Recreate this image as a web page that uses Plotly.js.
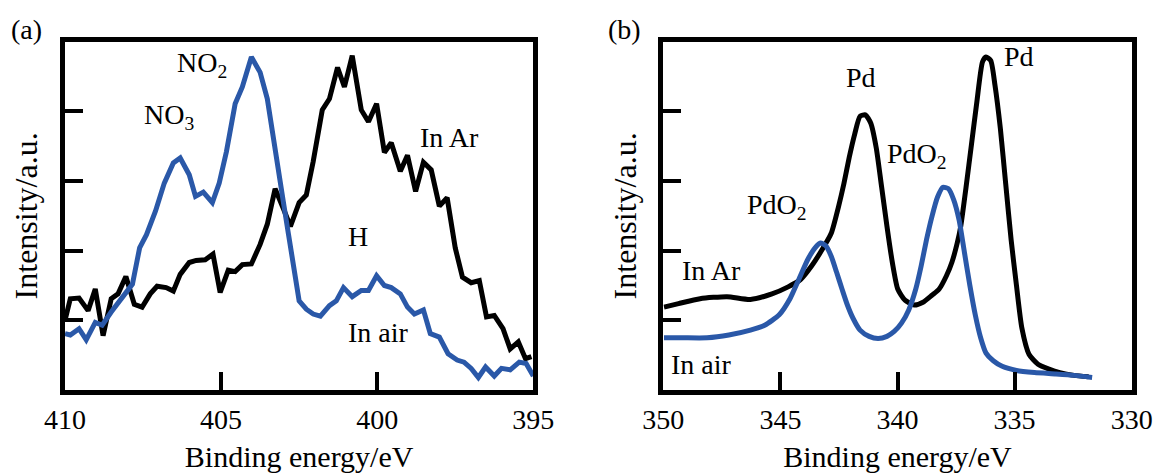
<!DOCTYPE html>
<html>
<head>
<meta charset="utf-8">
<script src="https://cdn.plot.ly/plotly-3.0.1.min.js"></script>
<style>html,body{margin:0;padding:0;background:#fff;}#chart{width:1158px;height:473px;}</style>
</head>
<body>
<div id="chart"></div>
<script>
// Panel (a): N 1s region
const xaAir = [410.0, 409.83, 409.55, 409.32, 409.03, 408.81, 408.52, 408.18, 407.84, 407.61, 407.39, 407.10, 406.82, 406.53, 406.31, 406.02, 405.82, 405.57, 405.28, 405.06, 404.83, 404.55, 404.32, 404.03, 403.75, 403.52, 403.35, 403.18, 403.01, 402.84, 402.67, 402.50, 402.27, 402.05, 401.82, 401.53, 401.31, 401.08, 400.80, 400.51, 400.28, 400.02, 399.77, 399.55, 399.26, 399.03, 398.81, 398.52, 398.30, 398.01, 397.73, 397.44, 397.22, 396.99, 396.76, 396.53, 396.25, 396.02, 395.74, 395.45, 395.23, 395.00];
const yaAir = [0.81, 0.79, 0.88, 0.72, 0.97, 0.93, 1.12, 1.33, 1.52, 2.04, 2.23, 2.57, 2.97, 3.26, 3.33, 3.09, 2.78, 2.84, 2.69, 2.97, 3.42, 4.11, 4.35, 4.78, 4.56, 4.18, 3.66, 3.18, 2.71, 2.23, 1.76, 1.28, 1.16, 1.09, 1.06, 1.21, 1.28, 1.47, 1.34, 1.43, 1.43, 1.64, 1.50, 1.47, 1.38, 1.19, 1.09, 1.15, 0.81, 0.76, 0.52, 0.43, 0.40, 0.31, 0.18, 0.33, 0.20, 0.31, 0.29, 0.40, 0.38, 0.20];
const xaAr = [410.0, 409.83, 409.55, 409.26, 409.03, 408.78, 408.52, 408.30, 408.05, 407.78, 407.53, 407.27, 407.05, 406.76, 406.53, 406.31, 406.02, 405.80, 405.51, 405.26, 405.03, 404.77, 404.55, 404.32, 404.03, 403.75, 403.52, 403.27, 403.01, 402.78, 402.50, 402.27, 402.05, 401.76, 401.53, 401.27, 401.05, 400.80, 400.51, 400.28, 400.02, 399.77, 399.55, 399.26, 399.03, 398.77, 398.52, 398.27, 398.01, 397.76, 397.50, 397.27, 396.99, 396.73, 396.50, 396.25, 395.97, 395.74, 395.48, 395.25, 395.06];
const yaAr = [1.00, 1.31, 1.32, 1.14, 1.45, 0.78, 1.31, 1.38, 1.63, 1.23, 1.19, 1.38, 1.49, 1.47, 1.42, 1.66, 1.83, 1.86, 1.87, 1.95, 1.40, 1.72, 1.70, 1.80, 1.81, 2.09, 2.38, 2.89, 2.61, 2.35, 2.69, 2.80, 3.28, 4.02, 4.18, 4.63, 4.35, 4.80, 4.02, 3.85, 4.11, 3.41, 3.55, 3.14, 3.37, 2.85, 3.27, 3.16, 2.64, 2.76, 2.04, 1.62, 1.54, 1.57, 1.05, 1.07, 0.88, 0.59, 0.69, 0.45, 0.48];

// Panel (b): Pd 3d region
const xbAr = [349.97, 349.35, 348.43, 347.28, 346.28, 345.36, 344.67, 344.13, 343.67, 343.21, 342.83, 342.52, 342.29, 342.06, 341.83, 341.60, 341.37, 341.14, 340.91, 340.68, 340.45, 340.22, 339.99, 339.68, 339.29, 338.91, 338.53, 338.22, 337.91, 337.68, 337.45, 337.30, 337.07, 336.84, 336.61, 336.37, 336.22, 336.02, 335.84, 335.61, 335.38, 335.15, 334.92, 334.69, 334.38, 334.00, 333.53, 333.07, 332.46, 331.84];
const ybAr = [1.19, 1.24, 1.31, 1.34, 1.30, 1.38, 1.48, 1.59, 1.78, 2.02, 2.25, 2.63, 2.96, 3.34, 3.67, 3.93, 3.95, 3.83, 3.48, 2.92, 2.35, 1.83, 1.45, 1.29, 1.22, 1.26, 1.36, 1.45, 1.64, 1.83, 2.11, 2.35, 2.92, 3.53, 4.14, 4.71, 4.78, 4.73, 4.38, 3.76, 2.96, 2.16, 1.50, 0.89, 0.51, 0.37, 0.30, 0.25, 0.21, 0.19];
const xbAir = [349.97, 349.20, 348.13, 347.20, 346.28, 345.67, 345.05, 344.59, 344.21, 343.82, 343.52, 343.29, 343.06, 342.83, 342.60, 342.37, 342.14, 341.90, 341.60, 341.21, 340.83, 340.45, 340.14, 339.83, 339.52, 339.22, 338.99, 338.76, 338.53, 338.29, 338.06, 337.83, 337.60, 337.37, 337.14, 336.91, 336.68, 336.45, 336.22, 335.91, 335.53, 334.92, 334.15, 333.23, 332.46, 331.69];
const ybAir = [0.75, 0.75, 0.75, 0.79, 0.86, 0.93, 1.08, 1.31, 1.59, 1.88, 2.04, 2.11, 2.07, 1.92, 1.69, 1.45, 1.22, 1.03, 0.86, 0.77, 0.74, 0.77, 0.84, 0.96, 1.15, 1.45, 1.78, 2.16, 2.49, 2.77, 2.91, 2.89, 2.73, 2.44, 1.97, 1.50, 1.08, 0.75, 0.53, 0.42, 0.34, 0.28, 0.25, 0.23, 0.21, 0.18];

const xTicksA = [410, 405, 400, 395];
const xTicksB = [350, 345, 340, 335, 330];
const yTicks = [1, 2, 3, 4];

const labelsA = [
  {x: 405.61, y: 4.67, text: 'NO<sub>2</sub>'},
  {x: 406.67, y: 3.93, text: 'NO<sub>3</sub>'},
  {x: 397.70, y: 3.63, text: 'In Ar'},
  {x: 400.61, y: 2.21, text: 'H'},
  {x: 399.97, y: 0.82, text: 'In air'}
];
const labelsB = [
  {x: 341.56, y: 4.48, text: 'Pd'},
  {x: 334.81, y: 4.79, text: 'Pd'},
  {x: 345.15, y: 2.63, text: 'PdO<sub>2</sub>'},
  {x: 339.17, y: 3.36, text: 'PdO<sub>2</sub>'},
  {x: 347.96, y: 1.72, text: 'In Ar'},
  {x: 348.39, y: 0.37, text: 'In air'}
];

const FONT = 'Liberation Serif, Times New Roman, serif';
const BLUE = '#2a58a8';

const traces = [
  {x: xaAr, y: yaAr, xaxis: 'x', yaxis: 'y', mode: 'lines', name: 'In Ar', line: {color: '#000', width: 5}},
  {x: xaAir, y: yaAir, xaxis: 'x', yaxis: 'y', mode: 'lines', name: 'In air', line: {color: BLUE, width: 5}},
  {x: xbAr, y: ybAr, xaxis: 'x2', yaxis: 'y2', mode: 'lines', name: 'In Ar', line: {color: '#000', width: 5, shape: 'spline', smoothing: 0.6}},
  {x: xbAir, y: ybAir, xaxis: 'x2', yaxis: 'y2', mode: 'lines', name: 'In air', line: {color: BLUE, width: 5, shape: 'spline', smoothing: 0.6}}
];

function xAxis(domain, range, ticks, anchor) {
  return {
    domain: domain, range: range, anchor: anchor,
    showline: true, mirror: true, linewidth: 5, linecolor: '#000',
    ticks: 'inside', ticklen: 18, tickwidth: 4, tickcolor: '#000',
    tickmode: 'array', tickvals: ticks, ticktext: ticks.map(String),
    tickfont: {family: FONT, size: 28, color: '#000'},
    showgrid: false, zeroline: false, automargin: false,
    title: {text: 'Binding energy/eV', font: {family: FONT, size: 30, color: '#000'}, standoff: 18}
  };
}
function yAxis(anchor) {
  return {
    domain: [0.17548, 0.91184], range: [0, 5], anchor: anchor,
    showline: true, mirror: true, linewidth: 5, linecolor: '#000',
    ticks: 'inside', ticklen: 18, tickwidth: 4, tickcolor: '#000',
    tickmode: 'array', tickvals: yTicks, showticklabels: false,
    showgrid: false, zeroline: false, automargin: false,
    title: {text: 'Intensity/a.u.', font: {family: FONT, size: 32, color: '#000'}, standoff: 14}
  };
}

const annotations = [];
labelsA.forEach(l => annotations.push({x: l.x, y: l.y, xref: 'x', yref: 'y', xanchor: 'center', yanchor: 'middle', text: l.text, showarrow: false, font: {family: FONT, size: 28, color: '#000'}}));
labelsB.forEach(l => annotations.push({x: l.x, y: l.y, xref: 'x2', yref: 'y2', xanchor: 'center', yanchor: 'middle', text: l.text, showarrow: false, font: {family: FONT, size: 28, color: '#000'}}));
annotations.push({x: 26 / 1158, y: 1 - 29 / 473, xref: 'paper', yref: 'paper', xanchor: 'center', yanchor: 'middle', text: '(a)', showarrow: false, font: {family: FONT, size: 28, color: '#000'}});
annotations.push({x: 624 / 1158, y: 1 - 29 / 473, xref: 'paper', yref: 'paper', xanchor: 'center', yanchor: 'middle', text: '(b)', showarrow: false, font: {family: FONT, size: 28, color: '#000'}});

const layout = {
  width: 1158, height: 473,
  margin: {l: 0, r: 0, t: 0, b: 0},
  paper_bgcolor: '#fff', plot_bgcolor: '#fff',
  showlegend: false,
  font: {family: FONT, color: '#000'},
  xaxis: xAxis([0.05613, 0.46054], [410, 395], xTicksA, 'y'),
  yaxis: yAxis('x'),
  xaxis2: xAxis([0.57280, 0.97729], [350, 330], xTicksB, 'y2'),
  yaxis2: yAxis('x2'),
  annotations: annotations
};

Plotly.newPlot('chart', traces, layout, {displayModeBar: false, staticPlot: true});
</script>
</body>
</html>
